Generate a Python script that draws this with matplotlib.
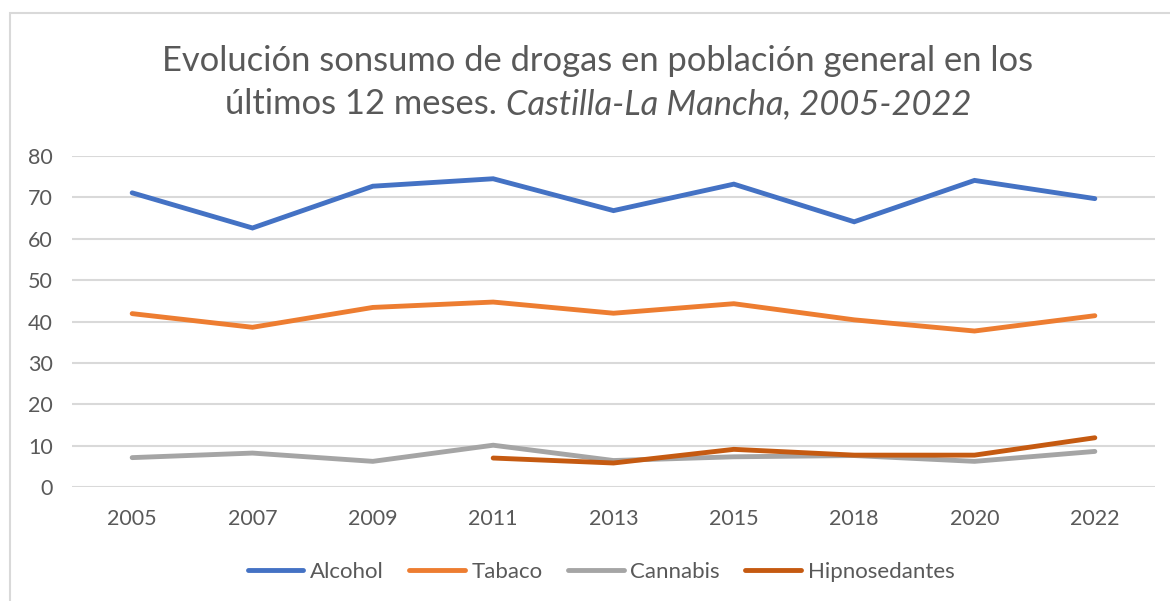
import matplotlib
matplotlib.use("Agg")
import matplotlib.pyplot as plt
from matplotlib.patches import Rectangle
import numpy as np

years = ["2005", "2007", "2009", "2011", "2013", "2015", "2018", "2020", "2022"]
alcohol = [71.1, 62.6, 72.7, 74.5, 66.8, 73.2, 64.1, 74.1, 69.7]
tabaco = [41.9, 38.6, 43.4, 44.7, 42.0, 44.3, 40.4, 37.7, 41.4]
cannabis = [7.1, 8.2, 6.2, 10.1, 6.4, 7.3, 7.6, 6.2, 8.6]
hipnosedantes = [np.nan, np.nan, np.nan, 7.0, 5.8, 9.1, 7.7, 7.7, 11.9]

series_names = ["Alcohol", "Tabaco", "Cannabis", "Hipnosedantes"]
colors = ["#4472C4", "#ED7D31", "#A5A5A5", "#C55A11"]

plt.rcParams['font.family'] = ['Lato', 'DejaVu Sans']
text_color = "#595959"

fig = plt.figure(figsize=(11.7, 6.01), dpi=100)
ax = fig.add_axes([72/1170, 1-487/601, (1155-72)/1170, (487-156)/601])

x = np.arange(len(years))
for vals, name, c in zip([alcohol, tabaco, cannabis, hipnosedantes], series_names, colors):
    ax.plot(x, vals, color=c, lw=3.5, label=name, solid_capstyle='round', solid_joinstyle='miter')

ax.set_xlim(-0.5, len(years) - 0.5)
ax.set_ylim(0, 80)
ax.set_yticks(range(0, 81, 10))
ax.set_xticks(x)
ax.set_xticklabels(years)
ax.grid(axis='y', color='#D9D9D9', lw=1.5)
ax.set_axisbelow(True)
for s in ax.spines.values():
    s.set_visible(False)
ax.tick_params(axis='both', length=0, labelsize=15.5, colors=text_color)
ax.tick_params(axis='y', pad=14)
ax.tick_params(axis='x', pad=16)

# Title
fs_title = 24.8
fig.text(598/1170, 1-61/601, "Evolución sonsumo de drogas en población general en los",
         ha='center', va='center', fontsize=fs_title, color=text_color)
t1 = "últimos 12 meses. "
t2 = "Castilla-La Mancha, 2005-2022"
r = fig.canvas.get_renderer()
a = fig.text(0, 1-104/601, t1, ha='left', va='center', fontsize=fs_title, color=text_color)
b = fig.text(0, 1-104/601, t2, ha='left', va='center', fontsize=fs_title, color=text_color, style='italic')
wa = a.get_window_extent(r).width
wb = b.get_window_extent(r).width
start = 598 - (wa + wb) / 2
a.set_x(start / 1170)
b.set_x((start + wa) / 1170)

leg = fig.legend(loc='center', bbox_to_anchor=(601/1170, 1-572/601), ncol=4, frameon=False,
                 fontsize=16, handlelength=2.5, handletextpad=0.3, columnspacing=1.15)
for txt in leg.get_texts():
    txt.set_color(text_color)

fig.patches.append(Rectangle((10/1170, -0.05), 1.2, 1-13/601 + 0.05, transform=fig.transFigure,
                             fill=False, edgecolor='#D9D9D9', lw=1.5))

fig.savefig("out.png", dpi=100, facecolor='white')
